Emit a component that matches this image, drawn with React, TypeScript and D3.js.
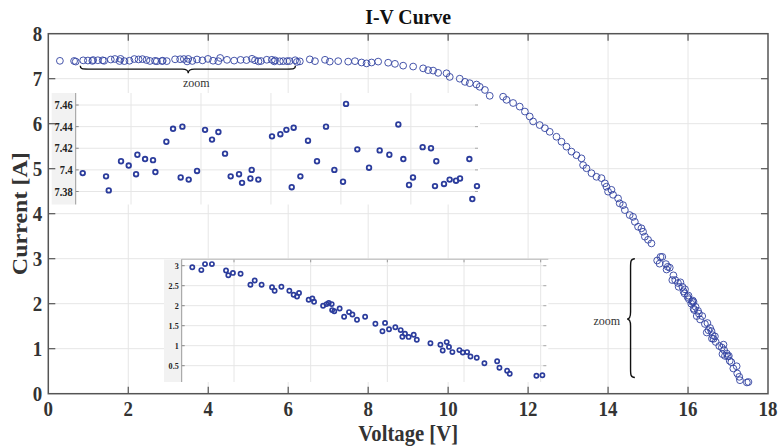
import React from "react";
import * as d3 from "d3";

// ---------- data ----------
const X_TICKS = [0, 2, 4, 6, 8, 10, 12, 14, 16, 18];
const Y_TICKS = [0, 1, 2, 3, 4, 5, 6, 7, 8];

// zoomed flat region (shown in top inset)
const zoomV = [0.29, 0.645, 0.686, 0.873, 0.99, 1.102, 1.122, 1.239, 1.36, 1.396, 1.563, 1.665, 1.781, 1.807, 1.903, 2.03, 2.152, 2.258, 2.355, 2.456, 2.542, 2.669, 2.715, 2.842, 2.862, 2.963, 3.171, 3.298, 3.39, 3.471, 3.501, 3.603, 3.719, 3.856, 3.993, 4.12, 4.252, 4.298, 4.47, 4.648, 4.81, 4.957, 5.094, 5.17, 5.257, 5.317, 5.464, 5.591, 5.652, 5.672, 5.789, 5.875, 5.972, 6.033, 6.175, 6.22, 6.291];
const zoomI = [7.397, 7.394, 7.381, 7.408, 7.404, 7.396, 7.414, 7.41, 7.409, 7.398, 7.426, 7.438, 7.393, 7.44, 7.391, 7.399, 7.437, 7.428, 7.435, 7.415, 7.394, 7.396, 7.388, 7.392, 7.4, 7.391, 7.431, 7.433, 7.437, 7.384, 7.439, 7.394, 7.427, 7.408, 7.44, 7.4, 7.389, 7.461, 7.419, 7.402, 7.418, 7.414, 7.442, 7.41, 7.386, 7.393, 7.421, 7.42, 7.385, 7.408, 7.387, 7.391, 7.39, 7.392, 7.41, 7.373, 7.385];

// knee region
const midV = [6.54, 6.67, 6.92, 7.04, 7.25, 7.5, 7.67, 7.835, 7.96, 8.085, 8.25, 8.5, 8.67, 8.875, 9.125, 9.375, 9.5, 9.625, 9.75, 9.96, 10.04, 10.29, 10.42, 10.54, 10.71, 10.79, 10.92, 11.04, 11.375, 11.46, 11.625, 11.79, 11.92, 12.04, 12.125, 12.29, 12.42, 12.54, 12.71, 12.835, 12.96, 13.085, 13.21, 13.335, 13.375, 13.46, 13.585, 13.71, 13.835, 13.92, 13.96, 14.0, 14.085, 14.125, 14.25, 14.29, 14.375, 14.42, 14.54, 14.625, 14.67, 14.75, 14.835, 14.875, 14.92, 15.0, 15.085];
const midI = [7.43, 7.39, 7.42, 7.38, 7.39, 7.38, 7.39, 7.36, 7.34, 7.36, 7.38, 7.355, 7.33, 7.29, 7.27, 7.23, 7.19, 7.18, 7.13, 7.12, 7.04, 7.0, 6.93, 6.9, 6.87, 6.82, 6.75, 6.62, 6.6, 6.53, 6.46, 6.38, 6.27, 6.16, 6.05, 5.97, 5.9, 5.82, 5.71, 5.6, 5.49, 5.38, 5.3, 5.23, 5.08, 5.01, 4.9, 4.82, 4.79, 4.675, 4.6, 4.49, 4.53, 4.42, 4.34, 4.23, 4.19, 4.08, 3.97, 3.93, 3.82, 3.71, 3.675, 3.6, 3.49, 3.42, 3.34];

// tail region (shown in bottom inset)
const tailV = [15.228, 15.287, 15.311, 15.356, 15.448, 15.463, 15.493, 15.543, 15.607, 15.635, 15.68, 15.748, 15.765, 15.809, 15.861, 15.889, 15.911, 15.924, 15.987, 16.011, 16.022, 16.081, 16.104, 16.118, 16.137, 16.14, 16.154, 16.189, 16.218, 16.25, 16.272, 16.302, 16.355, 16.422, 16.468, 16.485, 16.511, 16.552, 16.587, 16.598, 16.615, 16.639, 16.672, 16.692, 16.781, 16.846, 16.861, 16.887, 16.902, 16.924, 16.97, 16.992, 17.02, 17.042, 17.083, 17.133, 17.216, 17.231, 17.281, 17.298, 17.472, 17.511];
const tailI = [2.96, 2.89, 3.04, 3.04, 2.88, 2.76, 2.82, 2.8, 2.525, 2.63, 2.525, 2.46, 2.375, 2.475, 2.375, 2.275, 2.23, 2.32, 2.15, 2.18, 2.1, 2.0, 2.04, 2.07, 2.04, 1.89, 1.86, 1.93, 1.725, 1.84, 1.78, 1.65, 1.725, 1.55, 1.36, 1.57, 1.41, 1.46, 1.39, 1.225, 1.3, 1.22, 1.275, 1.15, 1.06, 1.025, 0.88, 1.09, 0.97, 0.84, 0.89, 0.83, 0.84, 0.73, 0.7, 0.56, 0.61, 0.45, 0.375, 0.3, 0.25, 0.26];

const INSET1_Y_TICKS = [7.38, 7.4, 7.42, 7.44, 7.46];
const INSET1_Y_LABELS = ["7.38", "7.4", "7.42", "7.44", "7.46"];
const INSET1_X_GRID = [1.025, 2.09, 3.155, 4.22, 5.285];
const INSET2_Y_TICKS = [0.5, 1, 1.5, 2, 2.5, 3];
const INSET2_Y_LABELS = ["0.5", "1", "1.5", "2", "2.5", "3"];
const INSET2_X_GRID = [15.5, 16, 16.5, 17, 17.5];

const TITLE = "I-V Curve";
const X_LABEL = "Voltage [V]";
const Y_LABEL = "Current [A]";
const ZOOM_LABEL = "zoom";

// ---------- styling ----------
const FONT = "'Liberation Serif', 'Times New Roman', serif";
const BLUE = "#3142a0";
const IN_BLUE = "#2b3c9c";
const GRID = "#e6e6e6";
const AXIS = "#555555";
const TXT = "#333333";
const SX = 0.9;

type TProps = {
  x: number; y: number; size: number; anchor?: string; weight?: string | number;
  rotate?: number; fill?: string; sx?: number; children: React.ReactNode; baseline?: string;
};
function T({ x, y, size, anchor = "middle", weight = "bold", rotate = 0, fill = TXT, sx = SX, children, baseline = "central" }: TProps) {
  return (
    <text
      transform={`translate(${x},${y}) scale(${sx},1) rotate(${rotate})`}
      fontFamily={FONT}
      fontSize={size}
      fontWeight={weight}
      textAnchor={anchor}
      dominantBaseline={baseline}
      fill={fill}
    >
      {children}
    </text>
  );
}

export default function App() {
  const W = 779, H = 446;
  const L = 48.3, R = 768, Tp = 33.7, B = 393.7;
  const x = d3.scaleLinear().domain([0, 18]).range([L, R]);
  const y = d3.scaleLinear().domain([0, 8]).range([B, Tp]);

  const allV = [...zoomV, ...midV, ...tailV];
  const allI = [...zoomI, ...midI, ...tailI];

  // inset 1 geometry
  const i1 = { strip: 51.7, l: 75.7, r: 480, t: 93, b: 204.5 };
  const x1 = d3.scaleLinear().domain([0.183, 6.337]).range([i1.l, i1.r]);
  const y1 = d3.scaleLinear().domain([7.38, 7.46]).range([191.5, 105]);

  // inset 2 geometry
  const i2 = { strip: 164, l: 181.7, r: 548.3, t: 259.3, b: 382 };
  const x2 = d3.scaleLinear().domain([15.5, 17.5]).range([234, 540.7]);
  const y2 = d3.scaleLinear().domain([0.5, 3]).range([365.7, 265.7]);

  const tick = 7;

  // braces
  const bx0 = x(0.8), bx1 = x(6.18), bxm = x(3.5), byTop = y(7.29), byLine = byTop + 3.5, byTip = byTop + 7.5;
  const topBrace = `M${bx0},${byTop} C${bx0},${byLine} ${bx0 + 2},${byLine} ${bx0 + 8},${byLine} L${bxm - 6},${byLine} C${bxm - 2},${byLine} ${bxm},${byLine + 1.5} ${bxm},${byTip} C${bxm},${byLine + 1.5} ${bxm + 2},${byLine} ${bxm + 6},${byLine} L${bx1 - 8},${byLine} C${bx1 - 2},${byLine} ${bx1},${byLine} ${bx1},${byTop}`;

  const rx = x(14.67), rLine = rx - 4.3, rTip = rx - 7.7;
  const ry0 = y(3.0), ry1 = y(0.36), rym = y(1.66);
  const rightBrace = `M${rx},${ry0} C${rLine},${ry0} ${rLine},${ry0 + 3} ${rLine},${ry0 + 9} L${rLine},${rym - 7} C${rLine},${rym - 2} ${rLine - 1.5},${rym} ${rTip},${rym} C${rLine - 1.5},${rym} ${rLine},${rym + 2} ${rLine},${rym + 7} L${rLine},${ry1 - 9} C${rLine},${ry1 - 3} ${rLine},${ry1} ${rx},${ry1}`;

  return (
    <svg width={W} height={H} style={{ position: "absolute", left: 0, top: 0, background: "#fff" }}>
      <rect x={0} y={0} width={W} height={H} fill="#fff" />
      {/* main grid */}
      {X_TICKS.slice(1, -1).map((v) => (
        <line key={"gx" + v} x1={x(v)} x2={x(v)} y1={Tp} y2={B} stroke={GRID} strokeWidth={1} />
      ))}
      {Y_TICKS.slice(1, -1).map((v) => (
        <line key={"gy" + v} x1={L} x2={R} y1={y(v)} y2={y(v)} stroke={GRID} strokeWidth={1} />
      ))}

      {/* main points */}
      {allV.map((v, i) => (
        <circle key={"p" + i} cx={x(v)} cy={y(allI[i])} r={3.4} fill="none" stroke={BLUE} strokeWidth={0.9} />
      ))}

      {/* braces */}
      <path d={topBrace} fill="none" stroke="#111" strokeWidth={1.4} />
      <T x={bxm + 8} y={byTip + 10} size={12} weight="normal" sx={1} fill="#333">{ZOOM_LABEL}</T>
      <path d={rightBrace} fill="none" stroke="#111" strokeWidth={1.4} />
      <T x={rTip - 7} y={rym + 2} size={12} weight="normal" sx={1} anchor="end" fill="#333">{ZOOM_LABEL}</T>

      {/* inset 1 */}
      <g>
        <rect x={i1.strip} y={i1.t} width={i1.r - i1.strip} height={i1.b - i1.t} fill="#fff" />
        <rect x={i1.strip} y={i1.t} width={i1.l - i1.strip} height={i1.b - i1.t} fill="#f2f2f2" />
        {INSET1_X_GRID.map((v) => (
          <line key={"i1gx" + v} x1={x1(v)} x2={x1(v)} y1={i1.t} y2={i1.b} stroke={GRID} />
        ))}
        {INSET1_Y_TICKS.map((v) => (
          <g key={"i1gy" + v}>
            <line x1={i1.l} x2={i1.r - 2} y1={y1(v)} y2={y1(v)} stroke={GRID} />
            <line x1={i1.l} x2={i1.l + 3} y1={y1(v)} y2={y1(v)} stroke="#888" />
            <line x1={i1.r - 5} x2={i1.r - 2} y1={y1(v)} y2={y1(v)} stroke="#aaa" />
          </g>
        ))}
        <line x1={i1.l} x2={i1.l} y1={i1.t} y2={i1.b} stroke="#999" strokeWidth={1} />
        {INSET1_Y_TICKS.map((v, k) => (
          <T key={"i1l" + v} x={i1.l - 3} y={y1(v)} size={11.5} anchor="end" fill="#222">{INSET1_Y_LABELS[k]}</T>
        ))}
        {zoomV.map((v, i) => (
          <circle key={"i1p" + i} cx={x1(v)} cy={y1(zoomI[i])} r={2.3} fill="none" stroke={IN_BLUE} strokeWidth={1.8} />
        ))}
      </g>

      {/* inset 2 */}
      <g>
        <rect x={i2.strip} y={i2.t} width={i2.r - i2.strip} height={i2.b - i2.t} fill="#fff" />
        <rect x={i2.strip} y={i2.t} width={i2.l - i2.strip} height={i2.b - i2.t} fill="#f2f2f2" />
        {INSET2_X_GRID.map((v) => (
          <g key={"i2gx" + v}>
            <line x1={x2(v)} x2={x2(v)} y1={i2.t} y2={i2.b} stroke={GRID} />
            <line x1={x2(v)} x2={x2(v)} y1={i2.t} y2={i2.t + 3} stroke="#999" />
          </g>
        ))}
        {INSET2_Y_TICKS.map((v) => (
          <g key={"i2gy" + v}>
            <line x1={i2.l} x2={i2.r - 2} y1={y2(v)} y2={y2(v)} stroke={GRID} />
            <line x1={i2.l} x2={i2.l + 3} y1={y2(v)} y2={y2(v)} stroke="#888" />
            <line x1={i2.r - 5} x2={i2.r - 2} y1={y2(v)} y2={y2(v)} stroke="#aaa" />
          </g>
        ))}
        <line x1={i2.l} x2={i2.r} y1={i2.t} y2={i2.t} stroke="#bbb" />
        <line x1={i2.l} x2={i2.l} y1={i2.t} y2={i2.b} stroke="#999" />
        {INSET2_Y_TICKS.map((v, k) => (
          <T key={"i2l" + v} x={i2.l - 3} y={y2(v)} size={9} anchor="end" fill="#222">{INSET2_Y_LABELS[k]}</T>
        ))}
        {tailV.map((v, i) => (
          <circle key={"i2p" + i} cx={x2(v)} cy={y2(tailI[i])} r={2.1} fill="none" stroke={IN_BLUE} strokeWidth={1.7} />
        ))}
      </g>

      {/* main axes box and ticks */}
      <rect x={L} y={Tp} width={R - L} height={B - Tp} fill="none" stroke={AXIS} strokeWidth={1.5} />
      {X_TICKS.slice(1, -1).map((v) => (
        <g key={"tx" + v}>
          <line x1={x(v)} x2={x(v)} y1={B} y2={B - tick} stroke={AXIS} strokeWidth={1.2} />
          <line x1={x(v)} x2={x(v)} y1={Tp} y2={Tp + tick} stroke={AXIS} strokeWidth={1.2} />
        </g>
      ))}
      {Y_TICKS.slice(1, -1).map((v) => (
        <g key={"ty" + v}>
          <line x1={L} x2={L + tick} y1={y(v)} y2={y(v)} stroke={AXIS} strokeWidth={1.2} />
          <line x1={R} x2={R - tick} y1={y(v)} y2={y(v)} stroke={AXIS} strokeWidth={1.2} />
        </g>
      ))}

      {/* tick labels */}
      {X_TICKS.map((v) => (
        <T key={"lx" + v} x={x(v)} y={B + 15} size={21}>{String(v)}</T>
      ))}
      {Y_TICKS.map((v) => (
        <T key={"ly" + v} x={L - 6} y={y(v)} size={21} anchor="end">{String(v)}</T>
      ))}

      {/* titles */}
      <T x={(L + R) / 2} y={17} size={22} fill="#111">{TITLE}</T>
      <T x={(L + R) / 2} y={B + 40} size={23}>{X_LABEL}</T>
      <T x={20} y={(Tp + B) / 2} size={24} rotate={-90}>{Y_LABEL}</T>
    </svg>
  );
}
